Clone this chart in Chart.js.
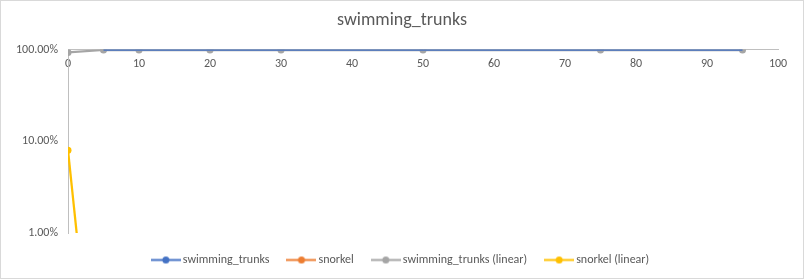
<!DOCTYPE html>
<html>
<head>
<meta charset="utf-8">
<script src="https://cdn.jsdelivr.net/npm/chart.js@4/dist/chart.umd.min.js"></script>
<style>
  html, body { margin: 0; padding: 0; background: #fff; }
  #wrap { width: 804px; height: 279px; box-sizing: border-box; border: 1px solid #d9d9d9; }
</style>
</head>
<body>
<div id="wrap"><canvas id="chart"></canvas></div>
<script>
// данные с картинки
const xValues = [0, 5, 10, 20, 30, 50, 75, 95];
const swimmingTrunks = [null, 1, 1, 1, 1, 1, 1, 1];
const snorkel = [null, null, null, null, null, null, null, null];
const swimmingTrunksLinear = [0.93, 0.99, 0.99, 0.99, 0.99, 0.99, 0.99, 0.99];
const snorkelLinear = [0.08, 0.000016, null, null, null, null, null, null];
const yTicks = [0.01, 0.1, 1];

const FONT = "Calibri, Carlito, 'Liberation Sans', sans-serif";

function pts(values) {
  return xValues.map((x, i) => ({ x: x, y: values[i] }));
}

// маркер легенды: линия с кружком
function legendMark(color) {
  const c = document.createElement("canvas");
  c.width = 30;
  c.height = 9;
  const g = c.getContext("2d");
  g.strokeStyle = color;
  g.lineWidth = 2;
  g.beginPath();
  g.moveTo(0, 4.5);
  g.lineTo(30, 4.5);
  g.stroke();
  g.fillStyle = color;
  g.beginPath();
  g.arc(15, 4.5, 3.5, 0, Math.PI * 2);
  g.fill();
  return c;
}

function series(label, values, color, order, radius) {
  return {
    label: label,
    data: pts(values),
    order: order,
    borderColor: color,
    backgroundColor: color,
    borderWidth: 2.25,
    pointRadius: radius,
    pointHoverRadius: radius,
    pointBorderWidth: 0,
    tension: 0,
    spanGaps: false,
    legendMark: legendMark(color),
  };
}

const ctx = document.getElementById("chart").getContext("2d");

new Chart(ctx, {
  type: "line",
  data: {
    datasets: [
      // синие маркеры всё равно закрыты серыми
      series("swimming_trunks", swimmingTrunks, "#4472C4", 1, 0),
      series("snorkel", snorkel, "#ED7D31", 3, 3.5),
      series("swimming_trunks (linear)", swimmingTrunksLinear, "#A5A5A5", 2, 3.5),
      series("snorkel (linear)", snorkelLinear, "#FFC000", 0, 3.5),
    ],
  },
  options: {
    responsive: true,
    maintainAspectRatio: false,
    animation: false,
    layout: { padding: { left: 0, right: 0, top: 0, bottom: 2 } },
    scales: {
      x: {
        type: "linear",
        min: 0,
        max: 100,
        position: { y: 1 },
        grid: { display: false, drawTicks: false },
        border: { display: true, color: "#bfbfbf", width: 1 },
        ticks: {
          stepSize: 10,
          padding: 7,
          color: "#595959",
          font: { family: FONT, size: 12 },
          maxRotation: 0,
        },
      },
      y: {
        type: "logarithmic",
        min: 0.01,
        max: 1,
        grid: { display: false, drawTicks: false },
        border: { display: true, color: "#bfbfbf", width: 1 },
        afterBuildTicks: (scale) => {
          scale.ticks = yTicks.map((v) => ({ value: v }));
        },
        afterFit: (scale) => {
          scale.width = 67;
        },
        ticks: {
          padding: 10,
          color: "#595959",
          font: { family: FONT, size: 12 },
          callback: (v) => (v * 100).toFixed(2) + "%",
        },
      },
      // пустая ось справа, только для отступа
      yRight: {
        type: "linear",
        position: "right",
        display: true,
        grid: { display: false, drawTicks: false },
        border: { display: false },
        ticks: { display: false },
        afterFit: (scale) => {
          scale.width = 25;
        },
      },
    },
    plugins: {
      title: {
        display: true,
        text: "swimming_trunks",
        color: "#595959",
        font: { family: FONT, size: 18, weight: "normal" },
        padding: { top: 9, bottom: 18 },
      },
      legend: {
        position: "bottom",
        labels: {
          usePointStyle: true,
          pointStyleWidth: 22,
          padding: 21,
          color: "#595959",
          font: { family: FONT, size: 12 },
          generateLabels: (chart) =>
            chart.data.datasets.map((ds, i) => ({
              text: ds.label,
              fillStyle: ds.borderColor,
              strokeStyle: ds.borderColor,
              fontColor: "#595959",
              pointStyle: ds.legendMark,
              lineWidth: 0,
              hidden: false,
              datasetIndex: i,
            })),
        },
      },
      tooltip: { enabled: false },
    },
  },
});
</script>
</body>
</html>
